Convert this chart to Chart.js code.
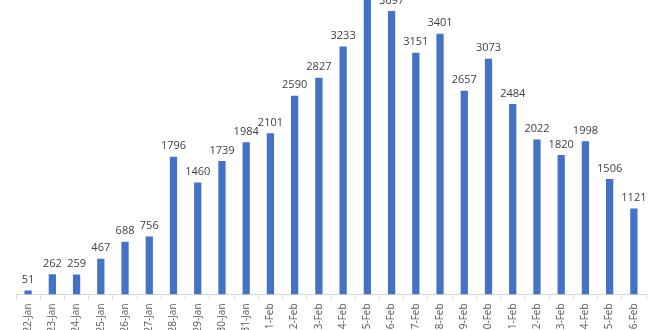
<!DOCTYPE html>
<html>
<head>
<meta charset="utf-8">
<script src="https://cdn.jsdelivr.net/npm/chart.js@4"></script>
<style>
    html, body { margin: 0; padding: 0; background: #fff; overflow: hidden; width: 660px; height: 330px; }
    canvas { display: block; }
</style>
</head>
<body>
<canvas id="chart" width="660" height="339"></canvas>
<script>
// Daily counts, 22-Jan .. 16-Feb
const days = ['22-Jan', '23-Jan', '24-Jan', '25-Jan', '26-Jan', '27-Jan', '28-Jan', '29-Jan', '30-Jan', '31-Jan',
    '1-Feb', '2-Feb', '3-Feb', '4-Feb', '5-Feb', '6-Feb', '7-Feb', '8-Feb', '9-Feb', '10-Feb',
    '11-Feb', '12-Feb', '13-Feb', '14-Feb', '15-Feb', '16-Feb'];
const counts = [51, 262, 259, 467, 688, 756, 1796, 1460, 1739, 1984,
    2101, 2590, 2827, 3233, 3900, 3697, 3151, 3401, 2657, 3073,
    2484, 2022, 1820, 1998, 1506, 1121];

const barLabels = {
    id: 'barLabels',
    afterDatasetsDraw(chart) {
        const ctx = chart.ctx;
        const meta = chart.getDatasetMeta(0);
        ctx.save();
        ctx.font = '11px "Open Sans", sans-serif';
        ctx.fillStyle = '#404040';
        ctx.textAlign = 'center';
        ctx.textBaseline = 'bottom';
        meta.data.forEach((bar, i) => {
            ctx.fillText(String(counts[i]), bar.x, bar.y - 5);
        });
        ctx.restore();
    }
};

new Chart(document.getElementById('chart').getContext('2d'), {
    type: 'bar',
    data: {
        labels: days,
        datasets: [{
            data: counts,
            backgroundColor: '#4472C4',
            barPercentage: 0.3,
            categoryPercentage: 1,
        }],
    },
    options: {
        responsive: false,
        animation: false,
        layout: { padding: { left: 16, right: 14, top: 0, bottom: 0 } },
        plugins: {
            legend: { display: false },
            tooltip: { enabled: false },
        },
        scales: {
            x: {
                grid: { display: true, drawOnChartArea: false, tickLength: 5, color: '#d9d9d9' },
                border: { color: '#d9d9d9' },
                ticks: {
                    color: '#595959',
                    font: { family: '"Open Sans", sans-serif', size: 10 },
                    minRotation: 90,
                    maxRotation: 90,
                    autoSkip: false,
                    padding: 4,
                },
            },
            y: {
                display: false,
                min: 0,
                max: 3840,
            },
        },
    },
    plugins: [barLabels],
});
</script>
</body>
</html>
